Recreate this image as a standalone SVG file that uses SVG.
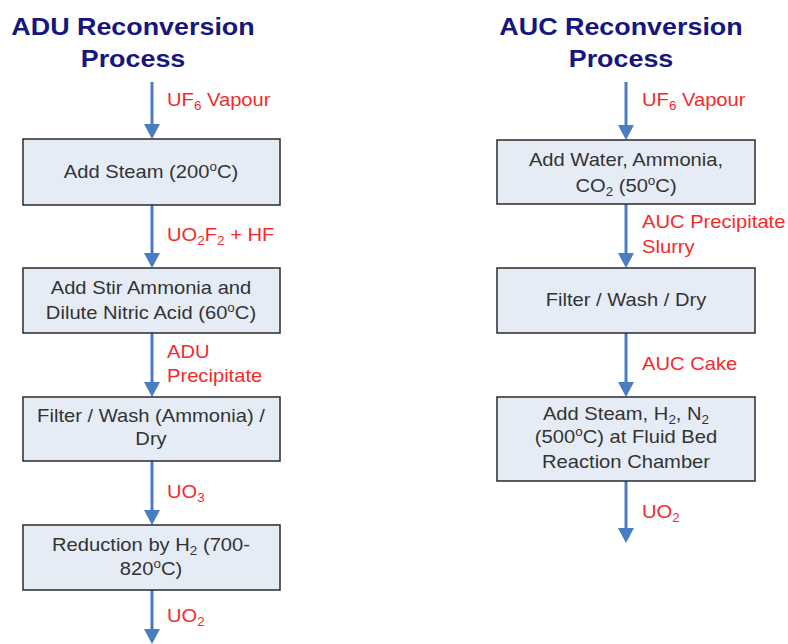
<svg xmlns="http://www.w3.org/2000/svg" width="788" height="644" viewBox="0 0 788 644">
<style>
.title{font-family:"Liberation Sans",Arial,sans-serif;font-weight:bold;font-size:24px;fill:#16167e;text-anchor:middle}
.box{fill:#e6ecf6;stroke:#2a2a2a;stroke-width:1.5}
.txt{font-family:"Liberation Sans",Arial,sans-serif;font-size:18px;fill:#333;text-anchor:middle}
.lbl{font-family:"Liberation Sans",Arial,sans-serif;font-size:18px;fill:#f42a2a}
.sub{font-size:12px}
.arr{stroke:#4a7cc2;stroke-width:3;fill:none;marker-end:url(#ah)}
</style>
<defs>
<marker id="ah" markerUnits="userSpaceOnUse" markerWidth="15" markerHeight="16" refX="5" refY="8" orient="auto" viewBox="0 0 15 16">
<path d="M0,0 L15,8 L0,16 Z" fill="#4a7cc2"/>
</marker>
</defs>
<rect width="788" height="644" fill="#fff"/>
<g id="titles">
<text class="title" transform="matrix(1.12 0 0 1 133 0)"><tspan x="0" y="35">ADU Reconversion</tspan><tspan x="0" y="67">Process</tspan></text>
<text class="title" transform="matrix(1.12 0 0 1 621 0)"><tspan x="0" y="35">AUC Reconversion</tspan><tspan x="0" y="67">Process</tspan></text>
</g>
<g id="connectors">
<line class="arr" x1="152" y1="82" x2="152" y2="129"/>
<line class="arr" x1="152" y1="205" x2="152" y2="258"/>
<line class="arr" x1="152" y1="333" x2="152" y2="387"/>
<line class="arr" x1="152" y1="461" x2="152" y2="515"/>
<line class="arr" x1="152" y1="590" x2="152" y2="634"/>
<line class="arr" x1="626" y1="82" x2="626" y2="130"/>
<line class="arr" x1="626" y1="204" x2="626" y2="258"/>
<line class="arr" x1="626" y1="333" x2="626" y2="387"/>
<line class="arr" x1="626" y1="481" x2="626" y2="533"/>
</g>
<g id="labels">
<text class="lbl" transform="matrix(1.12 0 0 1 167 0)" y="106">UF<tspan class="sub" dy="4">6</tspan><tspan dy="-4"> Vapour</tspan></text>
<text class="lbl" transform="matrix(1.12 0 0 1 167 0)" y="241">UO<tspan class="sub" dy="4">2</tspan><tspan dy="-4">F</tspan><tspan class="sub" dy="4">2</tspan><tspan dy="-4"> + HF</tspan></text>
<text class="lbl" transform="matrix(1.12 0 0 1 167 0)"><tspan x="0" y="358">ADU</tspan><tspan x="0" y="382">Precipitate</tspan></text>
<text class="lbl" transform="matrix(1.12 0 0 1 167 0)" y="498">UO<tspan class="sub" dy="4">3</tspan></text>
<text class="lbl" transform="matrix(1.12 0 0 1 167 0)" y="622">UO<tspan class="sub" dy="4">2</tspan></text>
<text class="lbl" transform="matrix(1.12 0 0 1 642 0)" y="106">UF<tspan class="sub" dy="4">6</tspan><tspan dy="-4"> Vapour</tspan></text>
<text class="lbl" transform="matrix(1.12 0 0 1 642 0)"><tspan x="0" y="228">AUC Precipitate</tspan><tspan x="0" y="253">Slurry</tspan></text>
<text class="lbl" transform="matrix(1.12 0 0 1 642 0)" y="370">AUC Cake</text>
<text class="lbl" transform="matrix(1.12 0 0 1 642 0)" y="518">UO<tspan class="sub" dy="4">2</tspan></text>
</g>
<g id="adu1">
<rect class="box" x="23" y="139" width="257" height="66"/>
<text class="txt" transform="matrix(1.12 0 0 1 151 0)" y="178">Add Steam (200<tspan class="sub" dy="-7">o</tspan><tspan dy="7">C)</tspan></text>
</g>
<g id="adu2">
<rect class="box" x="23" y="268" width="257" height="65"/>
<text class="txt" transform="matrix(1.12 0 0 1 151 0)"><tspan x="0" y="294">Add Stir Ammonia and</tspan><tspan x="0" y="319">Dilute Nitric Acid (60<tspan class="sub" dy="-7">o</tspan><tspan dy="7">C)</tspan></tspan></text>
</g>
<g id="adu3">
<rect class="box" x="23" y="397" width="257" height="64"/>
<text class="txt" transform="matrix(1.12 0 0 1 151 0)"><tspan x="0" y="422">Filter / Wash (Ammonia) /</tspan><tspan x="0" y="445">Dry</tspan></text>
</g>
<g id="adu4">
<rect class="box" x="23" y="525" width="257" height="65"/>
<text class="txt" transform="matrix(1.12 0 0 1 151 0)"><tspan x="0" y="551">Reduction by H<tspan class="sub" dy="4">2</tspan><tspan dy="-4"> (700-</tspan></tspan><tspan x="0" y="575">820<tspan class="sub" dy="-7">o</tspan><tspan dy="7">C)</tspan></tspan></text>
</g>
<g id="auc1">
<rect class="box" x="497" y="140" width="258" height="64"/>
<text class="txt" transform="matrix(1.12 0 0 1 626 0)"><tspan x="0" y="166">Add Water, Ammonia,</tspan><tspan x="0" y="192">CO<tspan class="sub" dy="4">2</tspan><tspan dy="-4"> (50</tspan><tspan class="sub" dy="-7">o</tspan><tspan dy="7">C)</tspan></tspan></text>
</g>
<g id="auc2">
<rect class="box" x="497" y="268" width="258" height="65"/>
<text class="txt" transform="matrix(1.12 0 0 1 626 0)" y="306">Filter / Wash / Dry</text>
</g>
<g id="auc3">
<rect class="box" x="497" y="397" width="258" height="84"/>
<text class="txt" transform="matrix(1.12 0 0 1 626 0)"><tspan x="0" y="420">Add Steam, H<tspan class="sub" dy="4">2</tspan><tspan dy="-4">, N</tspan><tspan class="sub" dy="4">2</tspan></tspan><tspan x="0" y="443">(500<tspan class="sub" dy="-7">o</tspan><tspan dy="7">C) at Fluid Bed</tspan></tspan><tspan x="0" y="468">Reaction Chamber</tspan></text>
</g>
</svg>
